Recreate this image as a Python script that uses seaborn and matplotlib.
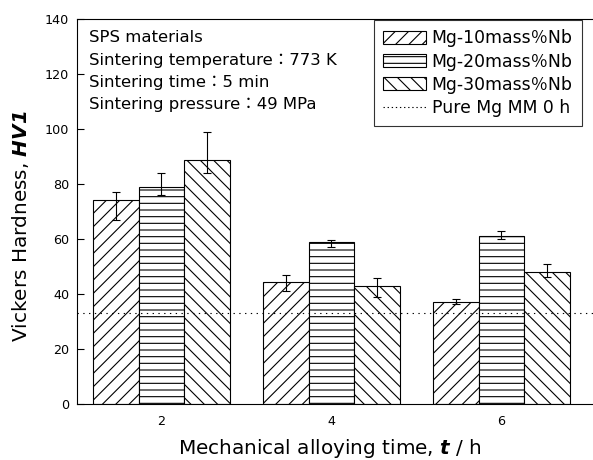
import matplotlib
matplotlib.use("Agg")
import matplotlib.pyplot as plt
from matplotlib.lines import Line2D
import pandas as pd
import seaborn as sns

# Data
times = ["2", "4", "6"]
alloys = ["Mg-10mass％Nb", "Mg-20mass％Nb", "Mg-30mass％Nb"]
mg10 = [74.2, 44.2, 37.0]
mg10_hi = [77.2, 46.9, 38.1]
mg10_lo = [66.9, 41.1, 36.4]
mg20 = [79.0, 59.0, 61.2]
mg20_hi = [83.9, 59.6, 62.9]
mg20_lo = [76.0, 57.2, 60.0]
mg30 = [88.7, 42.9, 47.9]
mg30_hi = [99.0, 45.9, 50.9]
mg30_lo = [84.1, 39.0, 46.3]
pure_mg = 33.0
notes = ["SPS materials",
         "Sintering temperature：773 K",
         "Sintering time：5 min",
         "Sintering pressure：49 MPa"]

sns.set_style("ticks")
plt.rcParams["font.family"] = ["DejaVu Sans", "Noto Sans CJK JP"]
plt.rcParams["mathtext.fontset"] = "dejavusans"
plt.rcParams["hatch.linewidth"] = 1.0
plt.rcParams["axes.unicode_minus"] = False
plt.rcParams["text.color"] = "black"
plt.rcParams["axes.labelcolor"] = "black"
plt.rcParams["axes.edgecolor"] = "black"
plt.rcParams["patch.force_edgecolor"] = False
plt.rcParams["axes.spines.right"] = False

df = pd.DataFrame({
    "time": times * 3,
    "alloy": [a for a in alloys for _ in times],
    "hv": mg10 + mg20 + mg30,
})
hi = mg10_hi + mg20_hi + mg30_hi
lo = mg10_lo + mg20_lo + mg30_lo

dpi = 80
fig = plt.figure(figsize=(593 / dpi, 460 / dpi), dpi=dpi)
# the original is cropped at the right: let the axes run past the edge
right_px = 620
ax = fig.add_axes([77 / 593, 56 / 460, (right_px - 77) / 593, 385 / 460])

sns.barplot(data=df, x="time", y="hv", hue="alloy", order=times,
            hue_order=alloys, errorbar=None, width=0.81,
            palette=["white"] * 3, edgecolor="black", linewidth=1.0,
            legend=False, ax=ax)

hatches = ["//", "--", "\\\\"]
bars = ax.patches[:9]
for i, bar in enumerate(bars):
    bar.set_hatch(hatches[i // 3])
    bar.set_edgecolor("black")
    bar.set_facecolor("white")
    xc = bar.get_x() + bar.get_width() / 2
    v = bar.get_height()
    ax.errorbar(xc, v, yerr=[[v - lo[i]], [hi[i] - v]], fmt="none",
                ecolor="black", elinewidth=1.0, capsize=4, capthick=1.0)
for extra in ax.patches[9:]:
    extra.set_visible(False)

ax.axhline(pure_mg, color="black", lw=1.0, ls=(0, (1.2, 4)))

ax.set_xlim(-0.497, -0.497 + (right_px - 77) / 170)
ax.set_ylim(0, 140)
ax.set_yticks(range(0, 141, 20))
ax.tick_params(direction="in", length=6, width=1, labelsize=11.5,
               colors="black", right=False, top=False)
ax.tick_params(axis="x", pad=10)
ax.tick_params(axis="y", pad=7)
for s in ["left", "bottom", "top"]:
    ax.spines[s].set_visible(True)
    ax.spines[s].set_linewidth(1.0)
    ax.spines[s].set_color("black")
ax.spines["right"].set_visible(False)
ax.spines["right"].set_color("none")
ax.spines["right"].set_linewidth(0)
ax.patch.set_edgecolor("none")
ax.patch.set_linewidth(0)

ax.set_xlabel("Mechanical alloying time, $\\mathbfit{t}$ / h", fontsize=18,
              va="center")
ax.set_ylabel("Vickers Hardness, $\\mathbfit{HV1}$", fontsize=18,
              va="center")
ax.xaxis.set_label_coords(253 / (right_px - 77), -45 / 385)
ax.yaxis.set_label_coords(-56 / (right_px - 77), (404 - 226) / 385)

for k, t in enumerate(notes):
    fig.text(89 / 593, 1 - (38 + 22 * k) / 460, t, fontsize=14.8,
             va="center", ha="left")

handles = [plt.Rectangle((0, 0), 1, 1, facecolor="white", edgecolor="black",
                         hatch=h, lw=1.0) for h in hatches]
handles.append(Line2D([], [], color="black", lw=1.0, ls=(0, (1.2, 2.5))))
leg = ax.legend(handles, alloys + ["Pure Mg MM 0 h"], loc="upper right",
                bbox_to_anchor=(582 / 593, 1 - 20 / 460),
                bbox_transform=fig.transFigure, fontsize=15.5, frameon=True,
                fancybox=False, borderaxespad=0, handlelength=2.5,
                handleheight=0.75, labelspacing=0.3, handletextpad=0.3,
                borderpad=0.55)
leg.get_frame().set_edgecolor("black")
leg.get_frame().set_linewidth(1.0)

fig.savefig("out.png", dpi=dpi)
